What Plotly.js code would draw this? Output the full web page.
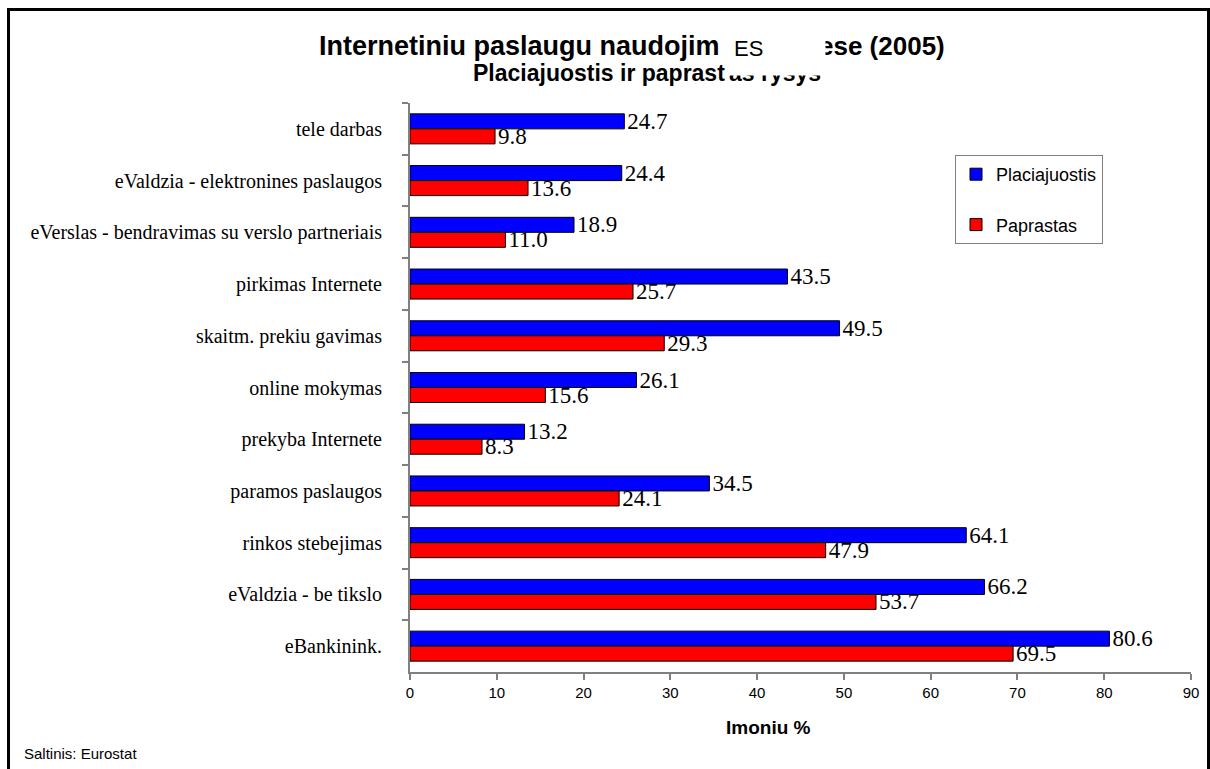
<!DOCTYPE html>
<html>
<head>
<meta charset="utf-8">
<script src="https://cdn.plot.ly/plotly-3.0.1.min.js"></script>
<style>
  html, body { margin: 0; padding: 0; background: #fff; }
  #wrap { position: relative; width: 1210px; height: 769px; overflow: hidden; }
  #chart { width: 1210px; height: 769px; }
  #frame { position: absolute; left: 7px; top: 8px; width: 1197px; height: 800px;
           border-left: 3px solid #000; border-top: 3px solid #000; border-right: 3px solid #000;
           pointer-events: none; }
</style>
</head>
<body>
<div id="wrap">
  <div id="chart"></div>
  <div id="frame"></div>
</div>
<script>
// ---- data ----
const categories = [
  "tele darbas",
  "eValdzia - elektronines paslaugos",
  "eVerslas - bendravimas su verslo partneriais",
  "pirkimas Internete",
  "skaitm. prekiu gavimas",
  "online mokymas",
  "prekyba Internete",
  "paramos paslaugos",
  "rinkos stebejimas",
  "eValdzia - be tikslo",
  "eBankinink."
];
const placiajuostis = [24.7, 24.4, 18.9, 43.5, 49.5, 26.1, 13.2, 34.5, 64.1, 66.2, 80.6];
const paprastas     = [9.8, 13.6, 11.0, 25.7, 29.3, 15.6, 8.3, 24.1, 47.9, 53.7, 69.5];
const seriesNames = ["Placiajuostis", "Paprastas"];
const xTicks = [0, 10, 20, 30, 40, 50, 60, 70, 80, 90];
const titleLeft = "Internetiniu paslaugu naudojim";
const titleRight = "ese (2005)";
const coverText = "ES";
const subLeft = "Placiajuostis ir paprast";
const subRight = "as rysys";
const xTitle = "Imoniu %";
const sourceText = "Saltinis: Eurostat";

// ---- layout geometry ----
const W = 1210, H = 769;
const mL = 410, mR = 19, mT = 103, mB = 97;
const pw = W - mL - mR, ph = H - mT - mB;
const px = v => (v - mL) / pw;
const py = v => (H - mB - v) / ph;

const serif = "Liberation Serif, Times New Roman, serif";
const sans = "Liberation Sans, Arial, sans-serif";

function barTrace(name, group, values, color) {
  return {
    type: "bar", orientation: "h", name: name, legendgroup: group,
    y: categories, x: values,
    marker: { color: color, line: { color: "#000", width: 1 } },
    text: values.map(v => v.toFixed(1)), textposition: "outside",
    constraintext: "none",
    textfont: { family: serif, size: 23, color: "#000" }, cliponaxis: false,
    hoverinfo: "x+y"
  };
}

const traces = [
  barTrace(seriesNames[0], "a", placiajuostis, "#0000ff"),
  barTrace(seriesNames[1], "b", paprastas, "#ff0000")
];

const layout = {
  width: W, height: H,
  margin: { l: mL, r: mR, t: mT, b: mB, pad: 0 },
  paper_bgcolor: "#fff", plot_bgcolor: "#fff",
  barmode: "group", bargap: 0.42, bargroupgap: 0,
  showlegend: true,
  legend: {
    x: px(955), y: py(155), xanchor: "left", yanchor: "top",
    bgcolor: "#fff", bordercolor: "#808080", borderwidth: 1,
    font: { family: sans, size: 18, color: "#000" },
    traceorder: "grouped", tracegroupgap: 24, itemwidth: 30
  },
  xaxis: {
    range: [0, 90], tickvals: xTicks, ticktext: xTicks.map(String),
    showgrid: false, zeroline: false,
    showline: true, linecolor: "#808080", linewidth: 2,
    ticks: "outside", ticklen: 6, tickcolor: "#808080", tickwidth: 2,
    tickfont: { family: sans, size: 15, color: "#000" },
    fixedrange: true
  },
  yaxis: {
    type: "category", categoryorder: "array", categoryarray: categories,
    autorange: "reversed",
    showgrid: false, zeroline: false,
    showline: true, linecolor: "#808080", linewidth: 2,
    ticks: "outside", ticklen: 6, tickcolor: "#808080", tickwidth: 2,
    tickson: "boundaries",
    ticklabelstandoff: 22,
    tickfont: { family: serif, size: 20, color: "#000" },
    fixedrange: true
  },
  annotations: [
    { xref: "paper", yref: "paper", x: px(722), y: py(46), xanchor: "right", yanchor: "middle",
      text: "<b>" + titleLeft + "</b>", showarrow: false,
      font: { family: sans, size: 27, color: "#000" } },
    { xref: "paper", yref: "paper", x: px(817), y: py(46), xanchor: "left", yanchor: "middle",
      text: "<b>" + titleRight + "</b>", showarrow: false,
      font: { family: sans, size: 26, color: "#000" } },
    { xref: "paper", yref: "paper", x: px(727), y: py(73), xanchor: "right", yanchor: "middle",
      text: "<b>" + subLeft + "</b>", showarrow: false,
      font: { family: sans, size: 23, color: "#000" } },
    { xref: "paper", yref: "paper", x: px(727), y: py(73), xanchor: "left", yanchor: "middle",
      text: "<b>" + subRight + "</b>", showarrow: false,
      font: { family: sans, size: 23, color: "#000" } },
    { xref: "paper", yref: "paper", x: px(726), y: py(28), xanchor: "left", yanchor: "top",
      text: coverText, showarrow: false, bgcolor: "#fff",
      width: 84, height: 32, borderpad: 7, align: "left", valign: "top",
      font: { family: sans, size: 22, color: "#000" } },
    { xref: "paper", yref: "paper", x: px(768), y: py(727), xanchor: "center", yanchor: "middle",
      text: "<b>" + xTitle + "</b>", showarrow: false,
      font: { family: sans, size: 19, color: "#000" } },
    { xref: "paper", yref: "paper", x: px(22), y: py(753), xanchor: "left", yanchor: "middle",
      text: sourceText, showarrow: false,
      font: { family: sans, size: 15, color: "#000" } }
  ]
};

Plotly.newPlot("chart", traces, layout, { displayModeBar: false, staticPlot: true });
</script>
</body>
</html>
